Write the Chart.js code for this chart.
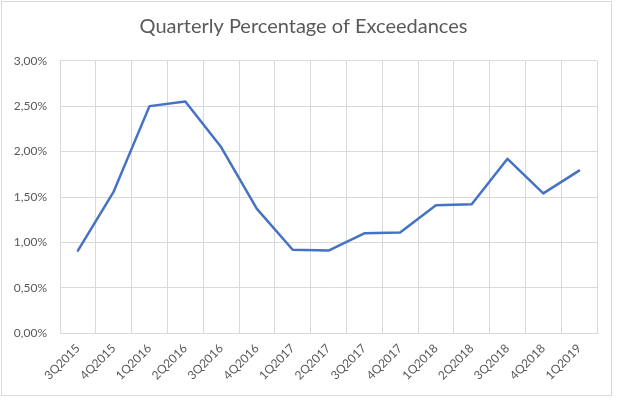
<!DOCTYPE html>
<html>
<head>
<meta charset="utf-8">
<script src="https://cdn.jsdelivr.net/npm/chart.js@4/dist/chart.umd.min.js"></script>
<style>
  html, body { margin: 0; padding: 0; background: #ffffff; }
  #wrap { position: relative; width: 617px; height: 400px; }
  #frame { position: absolute; left: 1px; top: 1px; width: 609px; height: 393px; border: 1px solid #D9D9D9; pointer-events: none; }
  canvas { position: absolute; left: 0; top: 0; }
</style>
</head>
<body>
<div id="wrap">
  <canvas id="c" width="617" height="400"></canvas>
  <div id="frame"></div>
</div>
<script>
const categories = ["3Q2015","4Q2015","1Q2016","2Q2016","3Q2016","4Q2016","1Q2017","2Q2017","3Q2017","4Q2017","1Q2018","2Q2018","3Q2018","4Q2018","1Q2019"];
const exceedancePct = [0.91, 1.56, 2.50, 2.55, 2.05, 1.37, 0.92, 0.91, 1.10, 1.11, 1.41, 1.42, 1.92, 1.54, 1.79];
const yTicks = [0, 0.5, 1.0, 1.5, 2.0, 2.5, 3.0];
const chartTitle = "Quarterly Percentage of Exceedances";

const FONT = "Lato, 'Open Sans', 'Noto Sans', sans-serif";
const TXT = "#595959";
const GRID = "#D9D9D9";

new Chart(document.getElementById('c'), {
  type: 'line',
  data: {
    labels: categories,
    datasets: [{
      data: exceedancePct,
      borderColor: '#4472C4',
      borderWidth: 2.5,
      pointRadius: 0,
      pointHoverRadius: 0,
      tension: 0,
      fill: false,
      borderJoinStyle: 'round',
      borderCapStyle: 'round'
    }]
  },
  options: {
    responsive: false,
    animation: false,
    devicePixelRatio: 1,
    layout: { padding: { left: 0, right: 10, top: 0, bottom: 0 } },
    plugins: {
      legend: { display: false },
      tooltip: { enabled: false },
      title: {
        display: true,
        text: chartTitle,
        color: TXT,
        font: { family: FONT, size: 20, weight: 'normal' },
        padding: { top: 15, bottom: 21.7 }
      }
    },
    scales: {
      x: {
        offset: true,
        grid: { display: true, color: GRID, lineWidth: 1, offset: true, drawTicks: false },
        border: { display: true, color: GRID, width: 1 },
        ticks: {
          color: TXT,
          font: { family: FONT, size: 12 },
          maxRotation: 45,
          minRotation: 45,
          autoSkip: false,
          padding: 8
        },
        afterFit: (s) => { s.height = 66.7; }
      },
      y: {
        min: 0,
        max: 3,
        afterBuildTicks: (s) => { s.ticks = yTicks.map(v => ({ value: v })); },
        grid: { display: true, color: GRID, lineWidth: 1, drawTicks: false },
        border: { display: false },
        ticks: {
          color: TXT,
          font: { family: FONT, size: 12 },
          padding: 13,
          callback: (v) => Number(v).toFixed(2).replace('.', ',') + '%'
        },
        afterFit: (s) => { s.width = 60; }
      },
      ySpacer: {
        position: 'right',
        min: 0,
        max: 3,
        grid: { display: false, drawTicks: false },
        border: { display: false },
        ticks: { display: false },
        afterFit: (s) => { s.width = 10; }
      }
    }
  }
});
</script>
</body>
</html>
